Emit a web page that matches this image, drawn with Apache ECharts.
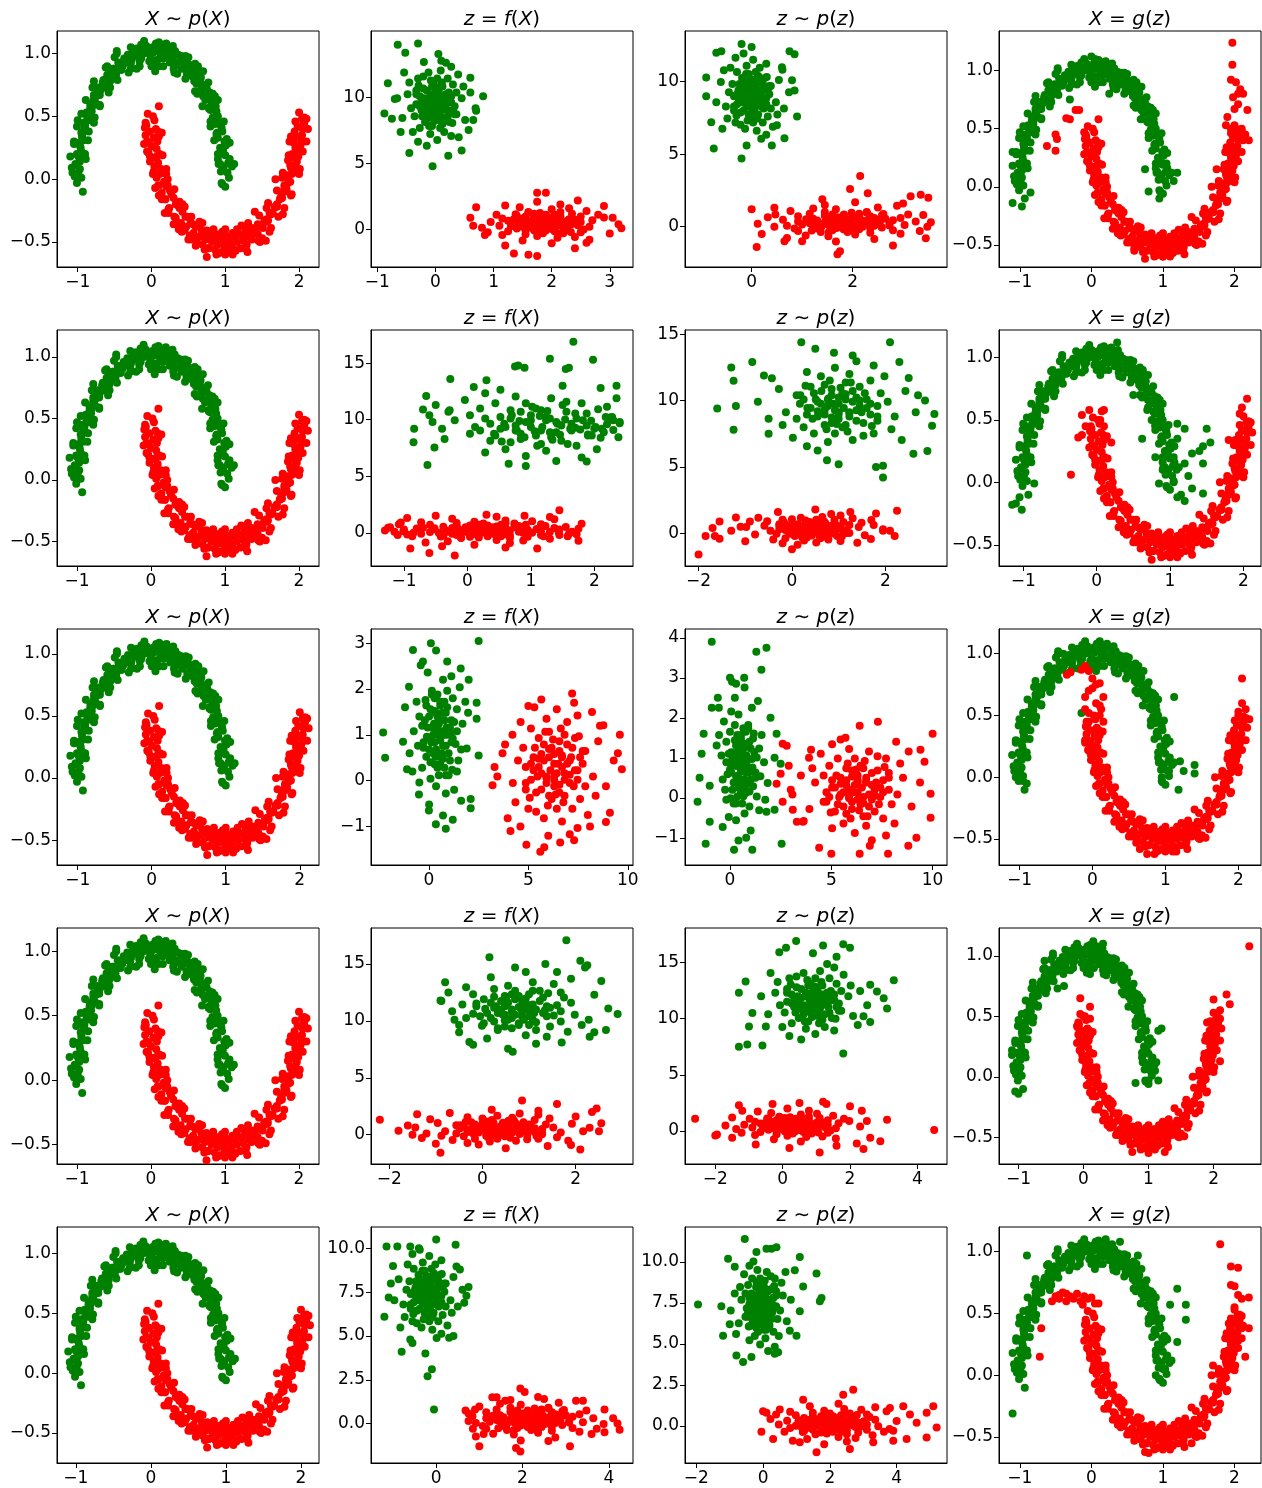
<!DOCTYPE html>
<html><head><meta charset="utf-8">
<script src="https://cdn.jsdelivr.net/npm/echarts@6/dist/echarts.min.js"></script>
<style>html,body{margin:0;padding:0;background:#fff}#c{width:1262px;height:1488px}</style>
</head><body><div id="c"></div>
<script>
// ---------- data: two moons X ~ p(X) ----------
const moonGreen=[[1.03,0.05],[0.96,-0.04],[1.05,0.01],[0.98,0.1],[0.94,0.06],[1.04,0.13],[1.0,0.19],[0.93,0.12],[1.06,0.16],[0.97,0.23],[0.92,0.2],[1.01,0.27],[0.99,0.3],[0.93,0.25],[0.9,0.33],[1.0,0.28],[0.96,0.38],[0.88,0.36],[0.94,0.43],[0.89,0.37],[0.86,0.44],[0.95,0.41],[0.9,0.5],[0.84,0.47],[0.88,0.54],[0.83,0.49],[0.8,0.55],[0.87,0.58],[0.84,0.61],[0.78,0.56],[0.77,0.64],[0.82,0.6],[0.73,0.63],[0.79,0.69],[0.75,0.72],[0.7,0.66],[0.68,0.73],[0.74,0.75],[0.66,0.78],[0.69,0.71],[0.61,0.76],[0.67,0.81],[0.63,0.84],[0.58,0.78],[0.55,0.82],[0.6,0.87],[0.52,0.86],[0.56,0.9],[0.48,0.84],[0.52,0.91],[0.44,0.9],[0.48,0.94],[0.41,0.88],[0.45,0.95],[0.37,0.93],[0.4,0.98],[0.33,0.91],[0.36,0.99],[0.29,0.96],[0.32,1.02],[0.25,0.93],[0.27,1.01],[0.2,0.98],[0.23,1.05],[0.16,0.96],[0.19,1.03],[0.12,1.0],[0.15,1.07],[0.08,0.95],[0.1,1.04],[0.03,1.01],[0.06,1.08],[-0.01,0.97],[0.02,1.05],[-0.05,1.02],[-0.03,0.94],[-0.1,1.0],[-0.07,1.06],[-0.14,0.96],[-0.12,1.03],[-0.18,1.01],[-0.16,0.94],[-0.22,0.98],[-0.2,1.04],[-0.27,0.95],[-0.24,1.01],[-0.31,0.97],[-0.28,0.92],[-0.35,0.93],[-0.32,0.99],[-0.39,0.9],[-0.37,0.96],[-0.43,0.92],[-0.41,0.87],[-0.47,0.86],[-0.45,0.93],[-0.51,0.88],[-0.48,0.83],[-0.55,0.82],[-0.52,0.88],[-0.58,0.84],[-0.56,0.78],[-0.62,0.77],[-0.6,0.83],[-0.65,0.79],[-0.63,0.73],[-0.69,0.71],[-0.66,0.77],[-0.72,0.73],[-0.7,0.67],[-0.75,0.66],[-0.72,0.71],[-0.78,0.67],[-0.76,0.61],[-0.8,0.58],[-0.78,0.64],[-0.83,0.6],[-0.81,0.54],[-0.86,0.51],[-0.83,0.57],[-0.88,0.53],[-0.85,0.47],[-0.9,0.43],[-0.87,0.49],[-0.92,0.45],[-0.89,0.39],[-0.94,0.35],[-0.91,0.41],[-0.95,0.37],[-0.92,0.31],[-0.97,0.27],[-0.94,0.33],[-0.98,0.29],[-0.95,0.22],[-1.0,0.19],[-0.96,0.25],[-1.01,0.2],[-0.97,0.14],[-1.02,0.11],[-0.98,0.17],[-1.03,0.12],[-0.99,0.05],[-1.04,0.02],[-0.97,0.08],[-1.01,-0.03],[-0.95,0.01],[1.12,0.12],[0.95,-0.03],[1.0,-0.06],[-1.1,0.18],[-0.93,-0.1],[-0.47,1.02],[0.05,0.86],[0.1,0.9],[0.6,0.8],[0.78,0.57],[0.83,0.68],[-0.7,0.58],[-0.85,0.38],[0.3,0.88],[-0.2,0.88],[-0.6,0.9],[0.5,0.97],[0.9,0.2],[0.93,0.45],[-1.05,0.3],[-0.95,0.52],[0.2,1.08],[-0.1,1.08],[0.7,0.86]];
const moonGreenSpread=[[1.09,0.1],[0.9,0.16],[1.06,0.29],[0.85,0.31],[0.98,0.46],[0.8,0.46],[0.9,0.63],[0.69,0.58],[0.77,0.77],[0.59,0.7],[0.63,0.9],[0.46,0.8],[0.46,0.98],[0.31,0.85],[0.29,1.06],[0.16,0.9],[0.1,1.09],[0.0,0.9],[-0.1,1.1],[-0.16,0.9],[-0.28,1.05],[-0.31,0.85],[-0.47,1.0],[-0.46,0.79],[-0.62,0.89],[-0.58,0.69],[-0.78,0.78],[-0.7,0.59],[-0.89,0.63],[-0.78,0.45],[-1.0,0.47],[-0.86,0.31],[-1.05,0.28],[-0.89,0.16],[-1.08,0.09],[0.91,0.12],[1.02,0.32],[0.8,0.42],[0.86,0.66],[0.62,0.68],[0.59,0.92],[0.35,0.84],[0.23,1.05],[0.04,0.92],[-0.14,1.07],[-0.28,0.88],[-0.5,0.97],[-0.56,0.73],[-0.8,0.73],[-0.77,0.49],[-1.01,0.42],[-0.9,0.2],[-1.07,0.05]];
const moonRed=[[-0.05,0.52],[0.04,0.47],[0.02,0.5],[-0.07,0.43],[0.06,0.4],[-0.02,0.38],[-0.08,0.35],[0.03,0.33],[0.08,0.3],[-0.03,0.29],[0.0,0.26],[-0.06,0.3],[0.07,0.24],[-0.04,0.21],[0.02,0.17],[0.11,0.2],[-0.02,0.14],[0.09,0.13],[0.04,0.1],[0.13,0.08],[0.03,0.06],[0.11,0.04],[0.16,0.05],[0.07,0.01],[0.09,-0.05],[0.17,-0.02],[0.1,-0.05],[0.2,-0.06],[0.14,-0.11],[0.22,-0.05],[0.19,-0.16],[0.25,-0.09],[0.18,-0.16],[0.27,-0.12],[0.23,-0.24],[0.3,-0.15],[0.24,-0.23],[0.33,-0.2],[0.31,-0.3],[0.36,-0.21],[0.33,-0.31],[0.38,-0.23],[0.37,-0.36],[0.42,-0.26],[0.4,-0.35],[0.46,-0.3],[0.45,-0.41],[0.49,-0.3],[0.47,-0.38],[0.53,-0.35],[0.52,-0.45],[0.56,-0.36],[0.57,-0.43],[0.6,-0.38],[0.61,-0.48],[0.64,-0.37],[0.65,-0.46],[0.68,-0.41],[0.69,-0.52],[0.72,-0.43],[0.73,-0.48],[0.75,-0.41],[0.77,-0.55],[0.8,-0.45],[0.82,-0.5],[0.84,-0.43],[0.86,-0.56],[0.88,-0.47],[0.9,-0.52],[0.92,-0.44],[0.95,-0.58],[0.97,-0.49],[0.99,-0.53],[1.01,-0.45],[1.03,-0.57],[1.05,-0.48],[1.08,-0.52],[1.1,-0.43],[1.12,-0.56],[1.14,-0.47],[1.16,-0.5],[1.18,-0.44],[1.21,-0.55],[1.23,-0.45],[1.25,-0.49],[1.27,-0.41],[1.29,-0.52],[1.31,-0.43],[1.33,-0.46],[1.36,-0.39],[1.36,-0.48],[1.4,-0.4],[1.41,-0.43],[1.44,-0.36],[1.44,-0.44],[1.48,-0.37],[1.48,-0.38],[1.53,-0.33],[1.51,-0.39],[1.56,-0.32],[1.56,-0.34],[1.6,-0.27],[1.58,-0.33],[1.64,-0.27],[1.62,-0.28],[1.67,-0.22],[1.64,-0.27],[1.7,-0.22],[1.69,-0.22],[1.74,-0.16],[1.7,-0.2],[1.77,-0.15],[1.75,-0.15],[1.8,-0.1],[1.76,-0.13],[1.83,-0.08],[1.8,-0.08],[1.85,-0.03],[1.8,-0.05],[1.88,-0.02],[1.85,0.01],[1.9,0.04],[1.85,0.03],[1.93,0.06],[1.89,0.09],[1.95,0.11],[1.88,0.11],[1.97,0.14],[1.92,0.17],[1.99,0.18],[1.91,0.2],[2.0,0.23],[1.95,0.25],[2.02,0.27],[1.93,0.29],[2.03,0.31],[1.97,0.34],[2.04,0.35],[1.94,0.38],[2.05,0.4],[1.98,0.42],[2.06,0.44],[1.95,0.46],[2.04,0.48],[2.0,0.53],[2.07,0.49],[0.05,-0.07],[0.18,-0.27],[1.4,-0.26],[1.55,-0.49],[0.75,-0.62],[1.0,-0.6],[1.68,0.0],[1.85,0.15],[2.1,0.48],[0.1,0.58],[-0.1,0.28],[0.14,0.37],[0.22,0.0],[0.45,-0.22],[0.6,-0.53],[0.88,-0.6],[1.22,-0.37],[1.3,-0.58],[1.45,-0.49],[1.6,-0.42],[1.72,-0.3],[1.9,-0.12],[1.98,0.05],[2.1,0.3],[2.12,0.4],[1.87,0.3],[0.3,-0.36],[0.5,-0.48],[0.07,0.18],[-0.08,0.45]];
const moonRedSpread=[[-0.09,0.41],[0.1,0.34],[-0.06,0.22],[0.15,0.19],[0.02,0.04],[0.2,0.04],[0.1,-0.13],[0.31,-0.08],[0.23,-0.27],[0.42,-0.2],[0.37,-0.4],[0.54,-0.3],[0.54,-0.48],[0.69,-0.35],[0.72,-0.56],[0.84,-0.4],[0.91,-0.59],[1.0,-0.4],[1.1,-0.6],[1.16,-0.4],[1.28,-0.55],[1.31,-0.35],[1.47,-0.5],[1.46,-0.29],[1.62,-0.39],[1.58,-0.19],[1.78,-0.28],[1.7,-0.09],[1.89,-0.13],[1.78,0.05],[2.0,0.04],[1.86,0.19],[2.05,0.22],[1.89,0.34],[2.08,0.41],[0.09,0.38],[-0.02,0.18],[0.2,0.08],[0.14,-0.16],[0.38,-0.18],[0.41,-0.42],[0.65,-0.34],[0.77,-0.55],[0.96,-0.42],[1.14,-0.57],[1.28,-0.38],[1.5,-0.47],[1.56,-0.23],[1.8,-0.23],[1.77,0.01],[2.01,0.08],[1.9,0.3],[2.07,0.45]];

// ---------- data: z = f(X) (column 2), rows 1..5 ----------
const fxGreen1=[[0.03,9.8],[-0.09,10.25],[0.18,9.2],[-0.15,8.9],[0.06,8.3],[0.27,10.1],[-0.24,9.65],[0,9.35],[0.12,10.85],[-0.06,7.85],[0.36,8.75],[-0.33,10.55],[0.21,11.45],[-0.18,8.15],[0.09,9.5],[-0.03,11.0],[0.45,9.95],[-0.42,9.2],[0.15,7.4],[-0.12,11.9],[0.3,11.0],[-0.27,7.7],[0.24,8.15],[-0.3,11.45],[0,10.4],[0.06,8.75],[-0.15,9.8],[0.18,10.25],[-0.06,9.05],[0.33,9.35],[-0.36,8.6],[0.09,12.05],[-0.21,10.7],[0.51,8.3],[-0.48,10.25],[0.03,6.8],[0.6,10.4],[-0.57,8.45],[0.27,7.1],[-0.09,7.25],[0.39,11.75],[-0.45,11.15],[0.12,10.1],[-0.12,8.45],[0.24,9.65],[-0.27,10.1],[0.03,11.45],[-0.03,8.6],[0.69,9.2],[-0.66,9.95],[0.18,12.65],[-0.15,6.35],[0.48,10.85],[-0.39,7.4],[0.57,7.55],[-0.54,11.9],[0.15,9.35],[-0.18,9.5],[0,9.95],[0.09,9.05],[-0.09,9.95],[0.21,8.6],[-0.24,9.05],[0.06,10.7],[0.3,9.05],[-0.06,10.85],[0.12,8.0],[-0.33,9.5],[0.36,10.4],[-0.21,11.6],[0.27,12.35],[-0.3,6.65],[-0.65,14.0],[-0.3,14.1],[-0.52,13.4],[0.05,13.3],[-0.88,8.8],[-0.82,11.1],[0.82,10.1],[-0.05,4.8],[0.22,5.6],[0.45,6.0],[-0.45,5.8],[-0.7,9.9],[0.7,9.0],[-0.6,7.4],[0.6,11.5],[0.1,12.8],[-0.2,12.7],[0.4,7.0],[-0.75,8.4],[0.65,8.3],[0.05,9.35],[-0.05,9.65],[0.12,9.8],[-0.12,9.2],[0.06,10.33],[-0.06,8.68],[0.2,9.05],[-0.2,9.95],[0.02,10.78],[-0.02,8.23],[0.27,9.65],[-0.27,9.35],[0.15,8.45],[-0.15,10.55],[0.23,10.4],[-0.23,8.6],[0.09,8.98],[-0.09,10.03],[0.33,8.75],[-0.33,10.25],[0.11,11.15],[-0.11,7.85],[0.18,9.88],[-0.18,9.13],[0,10.1],[0,8.9],[0.29,8.08],[-0.29,10.93],[0.08,7.7],[-0.08,11.3]];
const fxRed1=[[1.95,0.57],[2.1,0.29],[1.75,0.92],[1.65,0.15],[1.45,0.64],[2.05,1.13],[1.9,-0.06],[1.8,0.5],[2.3,0.78],[1.3,0.36],[1.6,1.34],[2.2,-0.27],[2.5,0.99],[1.4,0.08],[1.85,0.71],[2.35,0.43],[2.0,1.55],[1.75,-0.48],[1.15,0.85],[2.65,0.22],[2.35,1.2],[1.25,-0.13],[1.4,1.06],[2.5,-0.2],[2.15,0.5],[1.6,0.64],[1.95,0.15],[2.1,0.92],[1.7,0.36],[1.8,1.27],[1.55,-0.34],[2.7,0.71],[2.25,0.01],[1.45,1.69],[2.1,-0.62],[0.95,0.57],[2.15,1.9],[1.5,-0.83],[1.05,1.13],[1.1,0.29],[2.6,1.41],[2.4,-0.55],[2.05,0.78],[1.5,0.22],[1.9,1.06],[2.05,-0.13],[2.5,0.57],[1.55,0.43],[1.75,2.11],[2.0,-1.04],[2.9,0.92],[0.8,0.15],[2.3,1.62],[1.15,-0.41],[1.2,1.83],[2.65,-0.76],[1.8,0.85],[1.85,0.08],[2.0,0.5],[1.7,0.71],[2.0,0.29],[1.55,0.99],[1.7,-0.06],[2.25,0.64],[1.7,1.2],[2.3,0.36],[1.35,0.78],[1.85,-0.27],[2.15,1.34],[2.55,0.01],[2.8,1.13],[0.9,-0.2],[1.35,-1.8],[1.6,-1.9],[1.75,-2.0],[2.4,-1.4],[0.6,0.9],[0.65,0.3],[3.2,0.1],[3.15,0.4],[3.0,-0.3],[0.7,1.7],[1.9,2.8],[1.75,2.8],[2.6,-1.0],[2.9,1.8],[0.85,-0.4],[1.2,-1.2],[3.05,0.9],[2.45,2.2],[1.8,0.61],[1.9,0.4],[1.95,0.78],[1.75,0.22],[2.13,0.64],[1.58,0.36],[1.7,0.96],[2.0,0.05],[2.28,0.54],[1.43,0.47],[1.9,1.13],[1.8,-0.13],[1.5,0.85],[2.2,0.15],[2.15,1.03],[1.55,-0.03],[1.68,0.71],[2.03,0.29],[1.6,1.27],[2.1,-0.27],[2.4,0.75],[1.3,0.26],[1.98,0.92],[1.73,0.08],[2.05,0.5],[1.65,0.5],[1.38,1.17],[2.33,-0.17],[1.25,0.68],[2.45,0.33]];
const fxGreen2=[[0.92,9.8],[1.24,10.25],[0.52,9.2],[1.4,8.9],[0.84,8.3],[0.28,10.1],[1.64,9.65],[1.0,9.35],[0.68,10.85],[1.16,7.85],[0.04,8.75],[1.88,10.55],[0.44,11.45],[1.48,8.15],[0.76,9.5],[1.08,11.0],[-0.2,9.95],[2.12,9.2],[0.6,7.4],[1.32,11.9],[0.2,11.0],[1.72,7.7],[0.36,8.15],[1.8,11.45],[1.0,10.4],[0.84,8.75],[1.4,9.8],[0.52,10.25],[1.16,9.05],[0.12,9.35],[1.96,8.6],[0.76,12.05],[1.56,10.7],[-0.36,8.3],[2.28,10.25],[0.92,6.8],[-0.6,10.4],[2.38,8.45],[0.28,7.1],[1.24,7.25],[-0.04,11.75],[2.2,11.15],[0.68,10.1],[1.32,8.45],[0.36,9.65],[1.72,10.1],[0.92,11.45],[1.08,8.6],[-0.84,9.2],[2.3,9.95],[0.52,12.65],[1.4,6.35],[-0.28,10.85],[2.04,7.4],[-0.52,7.55],[2.35,11.9],[0.6,9.35],[1.48,9.5],[1.0,9.95],[0.76,9.05],[1.24,9.95],[0.44,8.6],[1.64,9.05],[0.84,10.7],[0.2,9.05],[1.16,10.85],[0.68,8.0],[1.88,9.5],[0.04,10.4],[1.56,11.6],[0.28,12.35],[1.8,6.65],[2.0,9.2],[2.2,9.6],[1.9,8.7],[2.3,9.1],[2.1,8.4],[1.7,9.3],[2.25,10.2],[2.4,9.7],[1.95,9.9],[2.15,8.9],[-0.7,10.9],[-0.65,12.1],[-0.5,11.3],[-0.3,10.7],[-0.4,9.2],[-0.55,9.8],[1.67,16.9],[1.98,15.3],[1.3,15.4],[0.9,14.6],[0.75,14.7],[0.8,14.8],[1.55,14.5],[1.6,14.6],[2.35,13.0],[-0.27,13.6],[-0.63,6.0],[0.92,5.9],[0.65,6.1],[1.88,6.3],[-0.85,8.0],[2.4,9.8],[0.3,13.5],[1.5,13.0],[0.1,12.9],[2.1,12.8],[1.18,9.35],[1.42,9.65],[0.98,9.8],[1.62,9.2],[1.14,10.33],[1.46,8.68],[0.78,9.05],[1.82,9.95],[1.26,10.78],[1.34,8.23],[0.58,9.65],[2.02,9.35],[0.9,8.45],[1.7,10.55],[0.7,10.4],[1.9,8.6],[1.06,8.98],[1.54,10.03],[0.42,8.75],[2.18,10.25],[1.02,11.15],[1.58,7.85],[0.82,9.88],[1.78,9.13],[1.3,10.1],[1.3,8.9],[0.54,8.08],[2.06,10.93],[1.1,7.7],[1.5,11.3]];
const fxRed2=[[0.39,0.14],[0.6,0.37],[0.11,-0.13],[-0.03,0.48],[-0.31,0.09],[0.53,-0.3],[0.32,0.64],[0.18,0.2],[0.88,-0.02],[-0.52,0.31],[-0.1,-0.46],[0.74,0.81],[1.16,-0.19],[-0.38,0.53],[0.25,0.03],[0.95,0.26],[0.46,-0.63],[0.11,0.97],[-0.73,-0.08],[1.37,0.42],[0.95,-0.35],[-0.59,0.7],[-0.38,-0.24],[1.16,0.75],[0.67,0.2],[-0.1,0.09],[0.39,0.48],[0.6,-0.13],[0.04,0.31],[0.18,-0.41],[-0.17,0.86],[1.44,0.03],[0.81,0.59],[-0.31,-0.74],[0.6,1.08],[-1.01,0.14],[0.67,-0.9],[-0.24,1.25],[-0.87,-0.3],[-0.8,0.37],[1.3,-0.52],[1.02,1.03],[0.53,-0.02],[-0.24,0.42],[0.32,-0.24],[0.53,0.7],[1.16,0.14],[-0.17,0.26],[0.11,-1.07],[0.46,1.41],[1.72,-0.13],[-1.22,0.48],[0.88,-0.68],[-0.73,0.92],[-0.66,-0.85],[1.37,1.19],[0.18,-0.08],[0.25,0.53],[0.46,0.2],[0.04,0.03],[0.46,0.37],[-0.17,-0.19],[0.04,0.64],[0.81,0.09],[0.04,-0.35],[0.88,0.31],[-0.45,-0.02],[0.25,0.81],[0.67,-0.46],[1.23,0.59],[1.58,-0.3],[-1.08,0.75],[-1.15,0.1],[-1.25,0.45],[-0.95,-0.15],[1.55,0.5],[1.65,0.1],[1.45,-0.2],[-1.05,0.9],[1.75,0.35],[-0.9,-1.4],[-0.6,-1.8],[-0.2,-2.0],[1.1,-1.4],[1.45,2.0],[1.8,0.8],[1.75,-0.7],[-1.3,0.2],[-0.95,1.3],[0.3,1.6],[0.9,1.5],[-0.4,-1.2],[0.6,-1.3],[1.3,1.4],[-0.5,1.5],[0.18,0.12],[0.32,0.28],[0.39,-0.02],[0.11,0.42],[0.64,0.09],[-0.14,0.31],[0.04,-0.16],[0.46,0.56],[0.85,0.17],[-0.35,0.23],[0.32,-0.3],[0.18,0.7],[-0.24,-0.08],[0.74,0.48],[0.67,-0.21],[-0.17,0.61],[0.0,0.04],[0.5,0.37],[-0.1,-0.41],[0.6,0.81],[1.02,0.01],[-0.52,0.39],[0.43,-0.13],[0.08,0.53],[0.53,0.2],[-0.03,0.2],[-0.42,-0.32],[0.92,0.72],[-0.59,0.06],[1.09,0.34],[-1.0,0.3],[-0.85,0.0],[-0.7,0.45],[1.3,0.1],[1.45,0.3],[1.2,-0.3],[-1.1,-0.2],[1.6,-0.1]];
const fxGreen3=[[0.64,1.08],[0.85,0.76],[0.36,1.48],[0.22,0.6],[-0.06,1.16],[0.78,1.72],[0.57,0.36],[0.43,1.0],[1.13,1.32],[-0.27,0.84],[0.15,1.96],[0.99,0.12],[1.41,1.56],[-0.13,0.52],[0.5,1.24],[1.2,0.92],[0.71,2.2],[0.36,-0.12],[-0.48,1.4],[1.62,0.68],[1.2,1.8],[-0.34,0.28],[-0.13,1.64],[1.41,0.2],[0.92,1.0],[0.15,1.16],[0.64,0.6],[0.85,1.48],[0.29,0.84],[0.43,1.88],[0.08,0.04],[1.69,1.24],[1.06,0.44],[-0.06,2.36],[0.85,-0.28],[-0.76,1.08],[0.92,2.6],[0.01,-0.52],[-0.62,1.72],[-0.55,0.76],[1.55,2.04],[1.27,-0.2],[0.78,1.32],[0.01,0.68],[0.57,1.64],[0.78,0.28],[1.41,1.08],[0.08,0.92],[0.36,2.84],[0.71,-0.76],[1.97,1.48],[-0.97,0.6],[1.13,2.28],[-0.48,-0.04],[-0.41,2.52],[1.62,-0.44],[0.43,1.4],[0.5,0.52],[0.71,1.0],[0.29,1.24],[0.71,0.76],[0.08,1.56],[0.29,0.36],[1.06,1.16],[0.29,1.8],[1.13,0.84],[-0.2,1.32],[0.5,0.12],[0.92,1.96],[1.48,0.44],[1.83,1.72],[-0.83,0.2],[-2.3,1.05],[-2.2,0.5],[2.5,3.05],[0.1,3.0],[-0.8,2.85],[2.1,-0.6],[2.1,-0.4],[0.85,-1.05],[0.35,-0.95],[2.5,0.55],[2.4,1.35],[2.4,1.7],[-1.2,1.6],[-1.1,0.25],[-1.3,0.85],[1.6,2.45],[-0.3,2.6],[0.0,-0.65],[1.9,0.7],[2.0,2.2],[-1.0,2.05],[1.2,-0.85],[-0.5,-0.3],[0.43,1.12],[0.57,0.88],[0.64,1.32],[0.36,0.68],[0.89,1.16],[0.12,0.84],[0.29,1.52],[0.71,0.48],[1.1,1.04],[-0.1,0.96],[0.57,1.72],[0.43,0.28],[0.01,1.4],[0.99,0.6],[0.92,1.6],[0.08,0.4],[0.26,1.24],[0.75,0.76],[0.15,1.88],[0.85,0.12],[1.27,1.28],[-0.27,0.72],[0.68,1.48],[0.33,0.52],[0.78,1.0],[0.22,1.0],[-0.17,1.76],[1.17,0.24],[-0.34,1.2],[1.34,0.8]];
const fxRed3=[[6.43,0.16],[5.91,-0.05],[7.08,0.44],[5.65,0.58],[6.56,0.86],[7.47,0.02],[5.26,0.23],[6.3,0.37],[6.82,-0.33],[6.04,1.07],[7.86,0.65],[4.87,-0.19],[7.21,-0.61],[5.52,0.93],[6.69,0.3],[6.17,-0.4],[8.25,0.09],[4.48,0.44],[6.95,1.28],[5.78,-0.82],[7.6,-0.4],[5.13,1.14],[7.34,0.93],[5.0,-0.61],[6.3,-0.12],[6.56,0.65],[5.65,0.16],[7.08,-0.05],[6.04,0.51],[7.73,0.37],[4.74,0.72],[6.69,-0.89],[5.39,-0.26],[8.51,0.86],[4.22,-0.05],[6.43,1.56],[8.9,-0.12],[3.83,0.79],[7.47,1.42],[5.91,1.35],[7.99,-0.75],[4.35,-0.47],[6.82,0.02],[5.78,0.79],[7.34,0.23],[5.13,0.02],[6.43,-0.61],[6.17,0.72],[9.29,0.44],[3.44,0.09],[7.08,-1.17],[5.65,1.77],[8.38,-0.33],[4.61,1.28],[8.77,1.21],[3.96,-0.82],[6.95,0.37],[5.52,0.3],[6.3,0.09],[6.69,0.51],[5.91,0.09],[7.21,0.72],[5.26,0.51],[6.56,-0.26],[7.6,0.51],[6.04,-0.33],[6.82,1.0],[4.87,0.3],[7.86,-0.12],[5.39,-0.68],[7.47,-1.03],[5.0,1.63],[7.2,1.9],[7.3,1.7],[4.1,-1.1],[4.9,-1.4],[5.6,-1.55],[5.8,-1.45],[6.6,-1.35],[7.3,-1.3],[9.7,0.25],[9.6,1.0],[3.2,-0.1],[8.1,-1.0],[3.3,0.3],[4.2,1.0],[5.3,1.6],[8.6,1.2],[9.1,-0.7],[8.9,-0.9],[6.0,-1.2],[9.5,0.6],[3.7,0.6],[4.6,-1.0],[8.2,1.5],[6.5,0.37],[6.11,0.23],[6.82,0.16],[5.78,0.44],[6.56,-0.09],[6.04,0.69],[7.15,0.51],[5.46,0.09],[6.37,-0.3],[6.24,0.9],[7.47,0.23],[5.13,0.37],[6.95,0.79],[5.65,-0.19],[7.28,-0.12],[5.33,0.72],[6.69,0.55],[5.91,0.06],[7.73,0.65],[4.87,-0.05],[6.76,-0.47],[5.85,1.07],[7.08,0.13],[5.52,0.48],[6.3,0.02],[6.3,0.58],[7.54,0.97],[5.07,-0.37],[6.63,1.14],[5.98,-0.54]];
const fxGreen4=[[0.85,10.85],[1.08,11.45],[0.55,10.1],[0.4,11.75],[0.1,10.7],[1.0,9.65],[0.78,12.2],[0.63,11.0],[1.38,10.4],[-0.13,11.3],[0.33,9.2],[1.23,12.65],[1.68,9.95],[0.03,11.9],[0.7,10.55],[1.45,11.15],[0.93,8.75],[0.55,13.1],[-0.35,10.25],[1.9,11.6],[1.45,9.5],[-0.2,12.35],[0.03,9.8],[1.68,12.5],[1.15,11.0],[0.33,10.7],[0.85,11.75],[1.08,10.1],[0.48,11.3],[0.63,9.35],[0.25,12.8],[1.98,10.55],[1.3,12.05],[0.1,8.45],[1.08,13.4],[-0.65,10.85],[1.15,8.0],[0.18,13.85],[-0.5,9.65],[-0.43,11.45],[1.83,9.05],[1.53,13.25],[1.0,10.4],[0.18,11.6],[0.78,9.8],[1.0,12.35],[1.68,10.85],[0.25,11.15],[0.55,7.55],[0.93,14.3],[2.28,10.1],[-0.88,11.75],[1.38,8.6],[-0.35,12.95],[-0.28,8.15],[1.9,13.7],[0.63,10.25],[0.7,11.9],[0.93,11.0],[0.48,10.55],[0.93,11.45],[0.25,9.95],[0.48,12.2],[1.3,10.7],[0.48,9.5],[1.38,11.3],[-0.05,10.4],[0.7,12.65],[1.15,9.2],[1.75,12.05],[2.13,9.65],[-0.73,12.5],[1.8,17.1],[0.15,15.6],[-0.8,13.4],[-0.9,11.8],[2.9,10.6],[2.65,9.2],[2.4,9.0],[-0.2,7.9],[0.65,7.3],[2.1,15.3],[2.2,14.7],[1.35,15.0],[0.7,14.7],[2.55,13.5],[2.25,14.9],[1.6,14.3],[2.7,11.1],[2.4,12.3],[-0.6,10.1],[2.3,8.6],[1.7,8.1],[-0.5,9.0],[0.63,10.78],[0.78,11.23],[0.85,10.4],[0.55,11.6],[1.11,10.7],[0.29,11.3],[0.48,10.03],[0.93,11.98],[1.34,10.93],[0.06,11.08],[0.78,9.65],[0.63,12.35],[0.18,10.25],[1.23,11.75],[1.15,9.88],[0.25,12.13],[0.44,10.55],[0.96,11.45],[0.33,9.35],[1.08,12.65],[1.53,10.48],[-0.13,11.53],[0.89,10.1],[0.51,11.9],[1.0,11.0],[0.4,11.0],[-0.01,9.58],[1.41,12.43],[-0.2,10.63],[1.6,11.38]];
const fxRed4=[[0.32,0.37],[0.64,0.18],[-0.08,0.63],[0.8,0.76],[0.24,1.02],[-0.32,0.24],[1.04,0.43],[0.4,0.57],[0.08,-0.09],[0.56,1.22],[-0.56,0.83],[1.28,0.04],[-0.16,-0.35],[0.88,1.09],[0.16,0.5],[0.48,-0.15],[-0.8,0.3],[1.52,0.63],[0.0,1.41],[0.72,-0.54],[-0.4,-0.15],[1.12,1.28],[-0.24,1.09],[1.2,-0.35],[0.4,0.11],[0.24,0.83],[0.8,0.37],[-0.08,0.18],[0.56,0.7],[-0.48,0.57],[1.36,0.89],[0.16,-0.61],[0.96,-0.02],[-0.96,1.02],[1.68,0.18],[0.32,1.67],[-1.2,0.11],[1.92,0.96],[-0.32,1.54],[0.64,1.48],[-0.64,-0.48],[1.6,-0.22],[0.08,0.24],[0.72,0.96],[-0.24,0.43],[1.12,0.24],[0.32,-0.35],[0.48,0.89],[-1.44,0.63],[2.16,0.3],[-0.08,-0.87],[0.8,1.87],[-0.88,-0.09],[1.44,1.41],[-1.12,1.35],[1.84,-0.54],[0.0,0.57],[0.88,0.5],[0.4,0.3],[0.16,0.7],[0.64,0.3],[-0.16,0.89],[1.04,0.7],[0.24,-0.02],[-0.4,0.7],[0.56,-0.09],[0.08,1.15],[1.28,0.5],[-0.56,0.11],[0.96,-0.41],[-0.32,-0.74],[1.2,1.74],[-2.2,1.3],[-1.8,0.35],[-1.6,0.8],[-0.9,-1.6],[0.85,3.0],[1.6,2.7],[2.1,-1.3],[2.45,2.3],[2.35,2.0],[2.55,1.0],[-1.4,1.8],[-1.3,-0.3],[-1.5,0.0],[2.3,0.6],[2.5,0.3],[1.9,-0.9],[-0.7,1.9],[0.2,2.2],[1.2,2.1],[-1.0,-0.8],[0.5,-1.2],[1.4,-1.0],[2.0,1.6],[0.28,0.57],[0.52,0.44],[0.08,0.37],[0.72,0.63],[0.24,0.14],[0.56,0.86],[-0.12,0.7],[0.92,0.31],[0.36,-0.05],[0.44,1.05],[-0.32,0.44],[1.12,0.57],[0.0,0.96],[0.8,0.05],[-0.2,0.11],[1.0,0.89],[0.16,0.73],[0.64,0.27],[-0.48,0.83],[1.28,0.18],[0.12,-0.22],[0.68,1.22],[-0.08,0.34],[0.88,0.66],[0.4,0.24],[0.4,0.76],[-0.36,1.12],[1.16,-0.12],[0.2,1.28],[0.6,-0.28]];
const fxGreen5=[[-0.16,7.16],[-0.31,6.8],[0.01,7.64],[-0.38,7.88],[-0.13,8.36],[0.12,6.92],[-0.48,7.28],[-0.2,7.52],[-0.06,6.32],[-0.27,8.72],[0.22,8.0],[-0.59,6.56],[0.05,5.84],[-0.41,8.48],[-0.09,7.4],[-0.24,6.2],[0.33,7.04],[-0.69,7.64],[-0.02,9.08],[-0.34,5.48],[0.15,6.2],[-0.52,8.84],[0.08,8.48],[-0.55,5.84],[-0.2,6.68],[-0.13,8.0],[-0.38,7.16],[0.01,6.8],[-0.27,7.76],[0.19,7.52],[-0.62,8.12],[-0.09,5.36],[-0.45,6.44],[0.4,8.36],[-0.76,6.8],[-0.16,9.56],[0.5,6.68],[-0.87,8.24],[0.12,9.32],[-0.31,9.2],[0.26,5.6],[-0.73,6.08],[-0.06,6.92],[-0.34,8.24],[0.08,7.28],[-0.52,6.92],[-0.16,5.84],[-0.24,8.12],[0.61,7.64],[-0.97,7.04],[0.01,4.88],[-0.38,9.92],[0.36,6.32],[-0.66,9.08],[0.47,8.96],[-0.83,5.48],[-0.02,7.52],[-0.41,7.4],[-0.2,7.04],[-0.09,7.76],[-0.31,7.04],[0.05,8.12],[-0.48,7.76],[-0.13,6.44],[0.15,7.76],[-0.27,6.32],[-0.06,8.6],[-0.59,7.4],[0.22,6.68],[-0.45,5.72],[0.12,5.12],[-0.55,9.68],[-0.05,0.8],[-0.2,2.7],[-0.1,3.1],[-0.8,4.1],[-0.25,4.0],[-1.2,6.1],[-1.15,10.1],[0.45,10.2],[0.0,10.5],[0.75,7.8],[0.7,7.3],[0.65,6.9],[-1.05,8.0],[-1.0,9.0],[-0.9,10.1],[-0.6,10.1],[0.4,5.0],[0.3,4.9],[-0.55,4.6],[-1.1,7.2],[-0.4,10.0],[0.55,8.8],[-0.6,4.8],[-0.15,7.52],[-0.25,7.28],[-0.06,7.16],[-0.34,7.64],[-0.13,6.74],[-0.27,8.06],[0.03,7.76],[-0.43,7.04],[-0.18,6.38],[-0.22,8.42],[0.12,7.28],[-0.52,7.52],[-0.03,8.24],[-0.38,6.56],[0.06,6.68],[-0.46,8.12],[-0.1,7.82],[-0.31,6.98],[0.19,8.0],[-0.59,6.8],[-0.08,6.08],[-0.32,8.72],[0.01,7.1],[-0.41,7.7],[-0.2,6.92],[-0.2,7.88],[0.13,8.54],[-0.53,6.26],[-0.11,8.84],[-0.29,5.96]];
const fxRed5=[[2.04,0.31],[1.8,0.08],[2.36,0.58],[2.52,-0.03],[2.84,0.36],[1.88,0.75],[2.12,-0.19],[2.28,0.25],[1.48,0.47],[3.08,0.14],[2.6,0.91],[1.64,-0.36],[1.16,0.64],[2.92,-0.08],[2.2,0.42],[1.4,0.2],[1.96,1.08],[2.36,-0.52],[3.32,0.53],[0.92,0.03],[1.4,0.8],[3.16,-0.25],[2.92,0.69],[1.16,-0.3],[1.72,0.25],[2.6,0.36],[2.04,-0.03],[1.8,0.58],[2.44,0.14],[2.28,0.86],[2.68,-0.41],[0.84,0.42],[1.56,-0.14],[2.84,1.19],[1.8,-0.63],[3.64,0.31],[1.72,1.35],[2.76,-0.8],[3.48,0.75],[3.4,0.08],[1.0,0.97],[1.32,-0.58],[1.88,0.47],[2.76,0.03],[2.12,0.69],[1.88,-0.25],[1.16,0.31],[2.68,0.2],[2.36,1.52],[1.96,-0.96],[0.75,0.58],[3.88,-0.03],[1.48,1.13],[3.32,-0.47],[3.24,1.3],[0.92,-0.74],[2.28,0.53],[2.2,-0.08],[1.96,0.25],[2.44,0.42],[1.96,0.08],[2.68,0.64],[2.44,-0.19],[1.56,0.36],[2.44,0.8],[1.48,0.14],[3.0,0.47],[2.2,-0.36],[1.72,0.91],[1.08,-0.14],[0.68,0.75],[3.72,-0.3],[0.75,0.15],[1.0,-1.3],[1.85,-1.4],[1.95,-1.6],[3.1,-1.3],[1.95,2.0],[2.05,1.8],[4.25,-0.35],[3.9,0.8],[4.1,0.3],[4.2,0.0],[3.9,-0.5],[1.3,1.5],[1.4,1.5],[2.5,1.4],[3.4,1.3],[0.9,0.8],[1.1,-0.6],[2.6,-1.0],[3.6,-0.6],[0.85,-0.3],[1.6,1.3],[2.28,0.33],[2.12,0.17],[2.04,0.47],[2.36,0.03],[1.76,0.36],[2.64,0.14],[2.44,0.61],[1.96,-0.11],[1.52,0.28],[2.88,0.22],[2.12,0.75],[2.28,-0.25],[2.76,0.53],[1.64,-0.03],[1.72,0.66],[2.68,-0.16],[2.48,0.42],[1.92,0.09],[2.6,0.86],[1.8,-0.36],[1.32,0.44],[3.08,0.06],[2.0,0.58],[2.4,-0.08],[1.88,0.25],[2.52,0.25],[2.96,0.77],[1.44,-0.27],[3.16,0.39],[1.24,0.11]];

// ---------- data: z ~ p(z) (column 3), rows 1..5 ----------
const pzGreen1=[[0.03,8.72],[-0.1,8.3],[0.19,9.28],[-0.16,9.56],[0.06,10.12],[0.29,8.44],[-0.26,8.86],[0,9.14],[0.13,7.74],[-0.06,10.54],[0.38,9.7],[-0.35,8.02],[0.22,7.18],[-0.19,10.26],[0.1,9.0],[-0.03,7.6],[0.48,8.58],[-0.45,9.28],[0.16,10.96],[-0.13,6.76],[0.32,7.6],[-0.29,10.68],[0.26,10.26],[-0.32,7.18],[0,8.16],[0.06,9.7],[-0.16,8.72],[0.19,8.3],[-0.06,9.42],[0.35,9.14],[-0.38,9.84],[0.1,6.62],[-0.22,7.88],[0.54,10.12],[-0.51,8.3],[0.03,11.52],[0.64,8.16],[-0.61,9.98],[0.29,11.24],[-0.1,11.1],[0.42,6.9],[-0.48,7.46],[0.13,8.44],[-0.13,9.98],[0.26,8.86],[-0.29,8.44],[0.03,7.18],[-0.03,9.84],[0.74,9.28],[-0.7,8.58],[0.19,6.06],[-0.16,11.94],[0.51,7.74],[-0.42,10.96],[0.61,10.82],[-0.58,6.76],[0.16,9.14],[-0.19,9.0],[0,8.58],[0.1,9.42],[-0.1,8.58],[0.22,9.84],[-0.26,9.42],[0.06,7.88],[0.32,9.42],[-0.06,7.74],[0.13,10.4],[-0.35,9.0],[0.38,8.16],[-0.22,7.04],[0.29,6.34],[-0.32,11.66],[-0.2,12.6],[0.0,12.4],[-0.6,12.1],[-0.7,12.0],[0.75,12.1],[0.85,11.9],[-0.9,10.3],[-0.9,9.0],[0.9,7.6],[-0.2,4.7],[-0.75,5.4],[-0.1,5.6],[0.4,5.6],[0.65,6.1],[0.85,9.4],[0.8,10.1],[-0.8,7.2],[0.6,11.0],[-0.55,10.8],[0.5,7.0],[0.05,9.14],[-0.05,8.86],[0.13,8.72],[-0.13,9.28],[0.06,8.23],[-0.06,9.77],[0.21,9.42],[-0.21,8.58],[0.02,7.81],[-0.02,10.19],[0.29,8.86],[-0.29,9.14],[0.16,9.98],[-0.16,8.02],[0.24,8.16],[-0.24,9.84],[0.1,9.49],[-0.1,8.51],[0.35,9.7],[-0.35,8.3],[0.11,7.46],[-0.11,10.54],[0.19,8.65],[-0.19,9.35],[0,8.44],[0,9.56],[0.3,10.33],[-0.3,7.67],[0.08,10.68],[-0.08,7.32]];
const pzRed1=[[1.75,0.36],[1.52,0.12],[2.05,0.66],[2.2,0.0],[2.5,0.42],[1.6,0.84],[1.82,-0.18],[1.98,0.3],[1.22,0.54],[2.73,0.18],[2.28,1.02],[1.37,-0.36],[0.92,0.72],[2.58,-0.06],[1.9,0.48],[1.15,0.24],[1.67,1.2],[2.05,-0.54],[2.95,0.6],[0.7,0.06],[1.15,0.9],[2.8,-0.24],[2.58,0.78],[0.92,-0.3],[1.45,0.3],[2.28,0.42],[1.75,0.0],[1.52,0.66],[2.13,0.18],[1.98,0.96],[2.35,-0.42],[0.62,0.48],[1.3,-0.12],[2.5,1.32],[1.52,-0.66],[3.25,0.36],[1.45,1.5],[2.43,-0.84],[3.1,0.84],[3.03,0.12],[0.77,1.08],[1.07,-0.6],[1.6,0.54],[2.43,0.06],[1.82,0.78],[1.6,-0.24],[0.92,0.36],[2.35,0.24],[2.05,1.68],[1.67,-1.02],[0.32,0.66],[3.48,0.0],[1.22,1.26],[2.95,-0.48],[2.88,1.44],[0.7,-0.78],[1.98,0.6],[1.9,-0.06],[1.67,0.3],[2.13,0.48],[1.67,0.12],[2.35,0.72],[2.13,-0.18],[1.3,0.42],[2.13,0.9],[1.22,0.18],[2.65,0.54],[1.9,-0.36],[1.45,1.02],[0.85,-0.12],[0.47,0.84],[3.33,-0.3],[0.0,1.2],[0.1,-1.4],[0.2,-0.5],[0.12,0.2],[0.45,1.3],[0.45,0.0],[2.15,3.5],[1.95,2.6],[3.5,2.0],[3.35,2.2],[3.15,2.1],[3.45,-0.8],[3.55,0.3],[3.4,0.8],[0.65,-1.0],[1.7,-1.9],[1.75,-1.7],[2.8,-1.3],[1.0,-1.0],[2.3,2.3],[1.4,1.9],[3.0,1.6],[1.98,0.39],[1.83,0.21],[1.75,0.54],[2.05,0.06],[1.49,0.42],[2.31,0.18],[2.13,0.69],[1.68,-0.09],[1.26,0.33],[2.54,0.27],[1.83,0.84],[1.98,-0.24],[2.43,0.6],[1.38,0.0],[1.45,0.75],[2.35,-0.15],[2.16,0.48],[1.64,0.12],[2.28,0.96],[1.53,-0.36],[1.08,0.51],[2.73,0.09],[1.71,0.66],[2.09,-0.06],[1.6,0.3],[2.2,0.3],[2.61,0.87],[1.19,-0.27],[2.8,0.45],[1.0,0.15]];
const pzGreen2=[[0.92,9.28],[1.23,8.8],[0.55,9.92],[1.38,10.24],[0.85,10.88],[0.32,8.96],[1.6,9.44],[1.0,9.76],[0.7,8.16],[1.15,11.36],[0.1,10.4],[1.83,8.48],[0.47,7.52],[1.45,11.04],[0.77,9.6],[1.08,8.0],[-0.13,9.12],[2.05,9.92],[0.62,11.84],[1.3,7.04],[0.25,8.0],[1.68,11.52],[0.4,11.04],[1.75,7.52],[1.0,8.64],[0.85,10.4],[1.38,9.28],[0.55,8.8],[1.15,10.08],[0.17,9.76],[1.9,10.56],[0.77,6.88],[1.53,8.32],[-0.28,10.88],[2.2,8.8],[0.92,12.48],[-0.5,8.64],[2.43,10.72],[0.32,12.16],[1.23,12.0],[0.02,7.2],[2.13,7.84],[0.7,8.96],[1.3,10.72],[0.4,9.44],[1.68,8.96],[0.92,7.52],[1.08,10.56],[-0.73,9.92],[2.65,9.12],[0.55,6.24],[1.38,12.96],[-0.2,8.16],[1.98,11.84],[-0.43,11.68],[2.35,7.04],[0.62,9.76],[1.45,9.6],[1.0,9.12],[0.77,10.08],[1.23,9.12],[0.47,10.56],[1.6,10.08],[0.85,8.32],[0.25,10.08],[1.15,8.16],[0.7,11.2],[1.83,9.6],[0.1,8.64],[1.53,7.36],[0.32,6.56],[1.75,12.64],[-1.6,9.4],[-1.25,7.8],[-1.2,9.6],[-1.3,12.5],[-1.25,11.5],[-0.85,12.9],[0.2,14.4],[2.1,14.4],[3.0,8.1],[2.9,6.2],[2.6,6.0],[1.0,5.2],[0.75,5.5],[1.8,5.0],[1.95,4.2],[1.95,5.1],[2.85,10.0],[2.7,10.4],[2.5,11.7],[0.5,13.9],[0.9,13.6],[-0.6,11.9],[-0.5,7.5],[1.3,13.4],[2.3,12.9],[3.05,9.0],[0.89,9.76],[1.11,9.44],[0.7,9.28],[1.3,9.92],[0.85,8.72],[1.15,10.48],[0.51,10.08],[1.49,9.12],[0.96,8.24],[1.04,10.96],[0.33,9.44],[1.68,9.76],[0.63,10.72],[1.38,8.48],[0.44,8.64],[1.56,10.56],[0.78,10.16],[1.23,9.04],[0.18,10.4],[1.83,8.8],[0.74,7.84],[1.26,11.36],[0.55,9.2],[1.45,10.0],[1.0,8.96],[1.0,10.24],[0.29,11.12],[1.71,8.08],[0.81,11.52],[1.19,7.68]];
const pzRed2=[[0.52,0.41],[0.26,0.58],[0.84,0.19],[0.12,0.08],[0.58,-0.14],[1.04,0.52],[-0.07,0.36],[0.45,0.25],[0.71,0.8],[0.32,-0.31],[1.23,0.03],[-0.27,0.69],[0.91,1.02],[0.06,-0.2],[0.65,0.3],[0.38,0.85],[1.43,0.47],[-0.46,0.19],[0.78,-0.47],[0.19,1.18],[1.1,0.85],[-0.14,-0.36],[0.97,-0.2],[-0.2,1.02],[0.45,0.63],[0.58,0.03],[0.12,0.41],[0.84,0.58],[0.32,0.14],[1.17,0.25],[-0.33,-0.03],[0.65,1.24],[0.0,0.74],[1.56,-0.14],[-0.59,0.58],[0.52,-0.69],[1.75,0.63],[-0.79,-0.09],[1.04,-0.58],[0.26,-0.53],[1.3,1.13],[-0.53,0.91],[0.71,0.52],[0.19,-0.09],[0.97,0.36],[-0.14,0.52],[0.52,1.02],[0.38,-0.03],[1.95,0.19],[-0.98,0.47],[0.84,1.46],[0.12,-0.86],[1.49,0.8],[-0.4,-0.47],[1.69,-0.42],[-0.72,1.18],[0.78,0.25],[0.06,0.3],[0.45,0.47],[0.65,0.14],[0.26,0.47],[0.91,-0.03],[-0.07,0.14],[0.58,0.74],[1.1,0.14],[0.32,0.8],[0.71,-0.25],[-0.27,0.3],[1.23,0.63],[0.0,1.07],[1.04,1.35],[-0.2,-0.75],[-2.0,-1.6],[-1.85,-0.2],[-1.7,0.4],[-1.55,0.9],[-1.65,-0.2],[-1.55,-0.4],[-1.3,0.2],[-1.2,1.2],[2.25,1.7],[2.1,0.2],[2.2,-0.2],[1.95,0.3],[-1.0,-0.6],[-0.9,0.9],[1.8,1.5],[1.4,-0.7],[0.0,-1.2],[1.7,1.0],[-1.1,0.5],[1.25,1.6],[-0.3,1.6],[0.5,1.8],[0.55,0.25],[0.35,0.36],[0.71,0.41],[0.19,0.19],[0.58,0.6],[0.32,0.0],[0.87,0.14],[0.03,0.47],[0.48,0.77],[0.42,-0.17],[1.04,0.36],[-0.14,0.25],[0.78,-0.09],[0.13,0.69],[0.94,0.63],[-0.04,-0.03],[0.65,0.11],[0.26,0.49],[1.17,0.03],[-0.27,0.58],[0.68,0.91],[0.22,-0.31],[0.84,0.44],[0.06,0.16],[0.45,0.52],[0.45,0.08],[1.07,-0.22],[-0.17,0.82],[0.61,-0.36],[0.29,0.96]];
const pzGreen3=[[0.48,0.89],[0.3,0.54],[0.72,1.31],[0.84,0.37],[1.08,0.97],[0.36,1.57],[0.54,0.12],[0.66,0.8],[0.06,1.14],[1.26,0.63],[0.9,1.82],[0.18,-0.14],[-0.18,1.4],[1.14,0.29],[0.6,1.06],[0.0,0.71],[0.42,2.08],[0.72,-0.39],[1.44,1.23],[-0.36,0.46],[0.0,1.65],[1.32,0.03],[1.14,1.48],[-0.18,-0.05],[0.24,0.8],[0.9,0.97],[0.48,0.37],[0.3,1.31],[0.78,0.63],[0.66,1.74],[0.96,-0.22],[-0.42,1.06],[0.12,0.2],[1.08,2.25],[0.3,-0.56],[1.68,0.89],[0.24,2.5],[1.02,-0.82],[1.56,1.57],[1.5,0.54],[-0.3,1.91],[-0.06,-0.48],[0.36,1.14],[1.02,0.46],[0.54,1.48],[0.36,0.03],[-0.18,0.89],[0.96,0.71],[0.72,2.76],[0.42,-1.07],[-0.66,1.31],[1.86,0.37],[0.06,2.16],[1.44,-0.31],[1.38,2.42],[-0.36,-0.73],[0.66,1.23],[0.6,0.29],[0.42,0.8],[0.78,1.06],[0.42,0.54],[0.96,1.4],[0.78,0.12],[0.12,0.97],[0.78,1.65],[0.06,0.63],[1.2,1.14],[0.6,-0.14],[0.24,1.82],[-0.24,0.2],[-0.54,1.57],[1.74,-0.05],[-0.9,3.9],[1.8,3.75],[1.3,3.65],[1.55,3.2],[0.0,3.0],[-0.6,2.5],[-0.9,2.25],[-0.55,2.25],[2.55,-1.15],[0.2,-1.3],[1.1,-1.3],[-1.2,-1.15],[-1.6,-0.1],[2.5,0.85],[2.3,1.6],[-1.4,1.1],[-1.5,0.5],[-1.3,1.6],[-1.0,-0.6],[0.1,2.9],[0.3,2.85],[0.7,3.0],[2.0,2.0],[2.2,-0.3],[1.8,-0.35],[2.2,1.0],[-1.0,0.3],[0.8,-1.0],[0.66,0.93],[0.54,0.67],[0.48,1.14],[0.72,0.46],[0.27,0.97],[0.93,0.63],[0.78,1.35],[0.42,0.25],[0.09,0.84],[1.11,0.76],[0.54,1.57],[0.66,0.04],[1.02,1.23],[0.18,0.38],[0.24,1.44],[0.96,0.16],[0.81,1.06],[0.39,0.55],[0.9,1.74],[0.3,-0.14],[-0.06,1.1],[1.26,0.5],[0.45,1.31],[0.75,0.29],[0.36,0.8],[0.84,0.8],[1.17,1.61],[0.03,-0.01],[1.32,1.01],[-0.12,0.59]];
const pzRed3=[[6.16,0.32],[6.72,0.5],[5.46,0.08],[7.0,-0.04],[6.02,-0.28],[5.04,0.44],[7.42,0.26],[6.3,0.14],[5.74,0.74],[6.58,-0.46],[4.62,-0.1],[7.84,0.62],[5.32,0.98],[7.14,-0.34],[5.88,0.2],[6.44,0.8],[4.2,0.38],[8.26,0.08],[5.6,-0.64],[6.86,1.16],[4.9,0.8],[7.56,-0.52],[5.18,-0.34],[7.7,0.98],[6.3,0.56],[6.02,-0.1],[7.0,0.32],[5.46,0.5],[6.58,0.02],[4.76,0.14],[7.98,-0.16],[5.88,1.22],[7.28,0.68],[3.92,-0.28],[8.54,0.5],[6.16,-0.88],[3.5,0.56],[8.96,-0.22],[5.04,-0.76],[6.72,-0.7],[4.48,1.1],[8.4,0.86],[5.74,0.44],[6.86,-0.22],[5.18,0.26],[7.56,0.44],[6.16,0.98],[6.44,-0.16],[3.08,0.08],[9.38,0.38],[5.46,1.46],[7.0,-1.06],[4.06,0.74],[8.12,-0.64],[3.64,-0.58],[8.82,1.16],[5.6,0.14],[7.14,0.2],[6.3,0.38],[5.88,0.02],[6.72,0.38],[5.32,-0.16],[7.42,0.02],[6.02,0.68],[4.9,0.02],[6.58,0.74],[5.74,-0.4],[7.84,0.2],[4.62,0.56],[7.28,1.04],[5.04,1.34],[7.7,-0.94],[10.0,1.6],[7.3,1.9],[6.4,1.8],[9.9,0.1],[9.9,-0.5],[7.8,-1.4],[6.4,-1.4],[5.0,-1.4],[4.4,-1.25],[3.6,-0.6],[2.3,0.35],[2.6,1.35],[2.8,1.3],[2.5,0.6],[2.9,0.8],[3.1,-0.3],[3.0,0.2],[3.3,-0.6],[2.6,-0.1],[9.6,0.9],[9.2,-1.0],[8.8,-1.2],[9.4,1.2],[8.2,1.4],[3.9,1.0],[4.0,1.2],[5.7,1.5],[6.9,-1.2],[6.09,0.14],[6.51,0.26],[5.74,0.32],[6.86,0.08],[6.02,0.53],[6.58,-0.13],[5.39,0.02],[7.21,0.38],[6.23,0.71],[6.37,-0.31],[5.04,0.26],[7.56,0.14],[5.6,-0.22],[7.0,0.62],[5.25,0.56],[7.35,-0.16],[5.88,-0.01],[6.72,0.41],[4.76,-0.1],[7.84,0.5],[5.81,0.86],[6.79,-0.46],[5.46,0.35],[7.14,0.05],[6.3,0.44],[6.3,-0.04],[4.97,-0.37],[7.63,0.77],[5.95,-0.52],[6.65,0.92]];
const pzGreen4=[[0.97,11.82],[0.69,12.3],[1.32,11.18],[0.55,10.86],[1.04,10.22],[1.53,12.14],[0.34,11.66],[0.9,11.34],[1.18,12.94],[0.76,9.74],[1.74,10.7],[0.13,12.62],[1.39,13.58],[0.48,10.06],[1.11,11.5],[0.83,13.1],[1.95,11.98],[-0.08,11.18],[1.25,9.26],[0.62,14.06],[1.6,13.1],[0.27,9.58],[1.46,10.06],[0.2,13.58],[0.9,12.46],[1.04,10.7],[0.55,11.82],[1.32,12.3],[0.76,11.02],[1.67,11.34],[0.06,10.54],[1.11,14.22],[0.41,12.78],[2.09,10.22],[-0.22,12.3],[0.97,8.62],[2.3,12.46],[-0.43,10.38],[1.53,8.94],[0.69,9.1],[1.81,13.9],[-0.15,13.26],[1.18,12.14],[0.62,10.38],[1.46,11.66],[0.27,12.14],[0.97,13.58],[0.83,10.54],[2.51,11.18],[-0.64,11.98],[1.32,14.86],[0.55,8.14],[2.02,12.94],[-0.01,9.26],[2.23,9.42],[-0.36,14.06],[1.25,11.34],[0.48,11.5],[0.9,11.98],[1.11,11.02],[0.69,11.98],[1.39,10.54],[0.34,11.02],[1.04,12.78],[1.6,11.02],[0.76,12.94],[1.18,9.9],[0.13,11.5],[1.74,12.46],[0.41,13.74],[1.53,14.54],[0.2,8.46],[0.1,16.3],[0.4,16.9],[-0.1,15.9],[1.2,16.5],[1.8,16.6],[2.0,16.3],[-1.3,7.5],[-1.05,7.7],[-0.6,7.6],[1.8,6.9],[3.3,13.4],[3.0,11.8],[3.1,10.9],[-1.3,12.3],[-1.1,13.3],[-0.9,10.5],[-1.0,9.3],[2.6,13.0],[2.8,12.4],[2.4,10.2],[2.6,9.7],[1.6,15.5],[0.9,15.8],[-0.5,9.3],[1.01,11.34],[0.8,11.66],[1.18,11.82],[0.62,11.18],[1.04,12.38],[0.76,10.62],[1.36,11.02],[0.45,11.98],[0.94,12.86],[0.87,10.14],[1.53,11.66],[0.27,11.34],[1.25,10.38],[0.55,12.62],[1.43,12.46],[0.38,10.54],[1.11,10.94],[0.69,12.06],[1.67,10.7],[0.13,12.3],[1.15,13.26],[0.66,9.74],[1.32,11.9],[0.48,11.1],[0.9,12.14],[0.9,10.86],[1.57,9.98],[0.24,13.02],[1.08,9.58],[0.73,13.42]];
const pzRed4=[[0.46,0.57],[0.7,0.31],[0.14,0.89],[-0.02,0.18],[-0.34,0.63],[0.62,1.09],[0.38,-0.02],[0.22,0.5],[1.02,0.76],[-0.58,0.37],[-0.1,1.28],[0.86,-0.22],[1.34,0.96],[-0.42,0.11],[0.3,0.7],[1.1,0.44],[0.54,1.48],[0.14,-0.41],[-0.82,0.83],[1.58,0.24],[1.1,1.15],[-0.66,-0.09],[-0.42,1.02],[1.34,-0.15],[0.78,0.5],[-0.1,0.63],[0.46,0.18],[0.7,0.89],[0.06,0.37],[0.22,1.22],[-0.18,-0.28],[1.66,0.7],[0.94,0.05],[-0.34,1.61],[0.7,-0.54],[-1.14,0.57],[0.78,1.8],[-0.26,-0.74],[-0.98,1.09],[-0.9,0.31],[1.5,1.35],[1.18,-0.48],[0.62,0.76],[-0.26,0.24],[0.38,1.02],[0.62,-0.09],[1.34,0.57],[-0.18,0.44],[0.14,2.0],[0.54,-0.93],[1.98,0.89],[-1.38,0.18],[1.02,1.54],[-0.82,-0.35],[-0.74,1.74],[1.58,-0.67],[0.22,0.83],[0.3,0.11],[0.54,0.5],[0.06,0.7],[0.54,0.31],[-0.18,0.96],[0.06,-0.02],[0.94,0.63],[0.06,1.15],[1.02,0.37],[-0.5,0.76],[0.3,-0.22],[0.78,1.28],[1.42,0.05],[1.82,1.09],[-1.22,-0.15],[-2.6,1.1],[-2.0,-0.4],[-1.95,-0.3],[4.5,0.1],[3.1,1.0],[2.9,-0.9],[2.4,-1.6],[1.1,-1.9],[2.35,1.8],[-1.3,2.3],[-1.5,1.2],[-1.7,0.5],[-1.2,1.8],[2.3,0.4],[2.6,-0.6],[2.5,0.9],[2.0,2.2],[-0.3,2.4],[0.5,2.5],[1.2,2.6],[-0.8,-1.2],[0.2,-1.5],[1.6,-1.3],[-1.5,-0.6],[2.2,-1.1],[1.3,2.4],[0.22,0.6],[0.38,0.4],[0.46,0.76],[0.14,0.24],[0.74,0.63],[-0.14,0.37],[0.06,0.92],[0.54,0.08],[0.98,0.53],[-0.38,0.47],[0.38,1.09],[0.22,-0.09],[-0.26,0.83],[0.86,0.18],[0.78,0.99],[-0.18,0.01],[0.02,0.7],[0.58,0.31],[-0.1,1.22],[0.7,-0.22],[1.18,0.73],[-0.58,0.27],[0.5,0.89],[0.1,0.11],[0.62,0.5],[-0.02,0.5],[-0.46,1.12],[1.06,-0.12],[-0.66,0.66],[1.26,0.34]];
const pzGreen5=[[-0.09,7.56],[0.07,7.95],[-0.29,7.04],[0.15,6.78],[-0.13,6.26],[-0.41,7.82],[0.27,7.43],[-0.05,7.17],[-0.21,8.47],[0.03,5.87],[-0.53,6.65],[0.39,8.21],[-0.33,8.99],[0.19,6.13],[-0.17,7.3],[-0.01,8.6],[-0.65,7.69],[0.51,7.04],[-0.25,5.48],[0.11,9.38],[-0.45,8.6],[0.31,5.74],[-0.37,6.13],[0.35,8.99],[-0.05,8.08],[-0.13,6.65],[0.15,7.56],[-0.29,7.95],[0.03,6.91],[-0.49,7.17],[0.43,6.52],[-0.17,9.51],[0.23,8.34],[-0.73,6.26],[0.59,7.95],[-0.09,4.96],[-0.85,8.08],[0.71,6.39],[-0.41,5.22],[0.07,5.35],[-0.57,9.25],[0.55,8.73],[-0.21,7.82],[0.11,6.39],[-0.37,7.43],[0.31,7.82],[-0.09,8.99],[-0.01,6.52],[-0.97,7.04],[0.83,7.69],[-0.29,10.03],[0.15,4.57],[-0.69,8.47],[0.47,5.48],[-0.81,5.61],[0.67,9.38],[-0.25,7.17],[0.19,7.3],[-0.05,7.69],[-0.17,6.91],[0.07,7.69],[-0.33,6.52],[0.27,6.91],[-0.13,8.34],[-0.45,6.91],[0.03,8.47],[-0.21,6.0],[0.39,7.3],[-0.53,8.08],[0.23,9.12],[-0.41,9.77],[0.35,4.83],[-1.95,7.4],[-0.55,11.4],[1.6,9.3],[1.7,7.6],[1.75,7.8],[1.1,10.3],[-1.05,10.2],[-0.85,9.7],[-0.6,3.9],[-0.35,4.2],[0.1,10.8],[0.25,10.8],[-0.2,10.6],[0.4,10.9],[1.2,8.5],[1.1,7.0],[1.0,5.5],[-1.2,5.5],[-1.0,6.2],[-1.25,7.3],[0.45,4.5],[0.8,5.8],[-0.8,4.3],[0.95,9.5],[0.35,4.4],[-0.11,7.17],[0.01,7.43],[-0.21,7.56],[0.11,7.04],[-0.13,8.02],[0.03,6.59],[-0.31,6.91],[0.21,7.69],[-0.07,8.41],[-0.03,6.2],[-0.41,7.43],[0.31,7.17],[-0.25,6.39],[0.15,8.21],[-0.35,8.08],[0.25,6.52],[-0.17,6.85],[0.07,7.76],[-0.49,6.65],[0.39,7.95],[-0.19,8.73],[0.09,5.87],[-0.29,7.63],[0.19,6.98],[-0.05,7.82],[-0.05,6.78],[-0.43,6.07],[0.33,8.54],[-0.15,5.74],[0.05,8.86]];
const pzRed5=[[2.17,0.09],[2.43,0.32],[1.83,-0.18],[1.66,0.43],[1.32,0.04],[2.34,-0.35],[2.09,0.59],[1.91,0.15],[2.77,-0.07],[1.06,0.26],[1.57,-0.51],[2.6,0.76],[3.11,-0.24],[1.23,0.48],[2.0,-0.02],[2.85,0.21],[2.26,-0.68],[1.83,0.92],[0.81,-0.13],[3.36,0.37],[2.85,-0.4],[0.98,0.65],[1.23,-0.29],[3.11,0.7],[2.51,0.15],[1.57,0.04],[2.17,0.43],[2.43,-0.18],[1.74,0.26],[1.91,-0.46],[1.49,0.81],[3.45,-0.02],[2.68,0.54],[1.32,-0.79],[2.43,1.03],[0.47,0.09],[2.51,-0.95],[1.4,1.2],[0.64,-0.35],[0.72,0.32],[3.28,-0.57],[2.94,0.98],[2.34,-0.07],[1.4,0.37],[2.09,-0.29],[2.34,0.65],[3.11,0.09],[1.49,0.21],[1.83,-1.12],[2.26,1.36],[3.79,-0.18],[0.22,0.43],[2.77,-0.73],[0.81,0.87],[0.89,-0.9],[3.36,1.14],[1.91,-0.13],[2.0,0.48],[2.26,0.15],[1.74,-0.02],[2.26,0.32],[1.49,-0.24],[1.74,0.59],[2.68,0.04],[1.74,-0.4],[2.77,0.26],[1.15,-0.07],[2.0,0.76],[2.51,-0.51],[3.19,0.54],[3.62,-0.35],[0.39,0.7],[5.1,1.2],[5.2,-0.1],[4.9,0.8],[4.9,-0.7],[4.3,-0.8],[4.2,1.2],[3.9,-0.9],[4.6,0.2],[4.4,0.7],[2.7,2.2],[-0.05,-0.35],[0.3,-0.8],[1.6,-1.6],[0.1,0.8],[0.0,0.9],[3.7,0.9],[4.0,0.3],[3.9,-0.3],[1.2,1.6],[2.4,1.9],[3.3,-1.0],[2.6,-1.4],[1.1,-1.0],[0.5,1.0],[3.8,1.1],[1.92,0.07],[2.09,0.23],[2.17,-0.07],[1.83,0.37],[2.47,0.04],[1.53,0.26],[1.75,-0.21],[2.26,0.51],[2.72,0.12],[1.28,0.18],[2.09,-0.35],[1.92,0.65],[1.41,-0.13],[2.6,0.43],[2.51,-0.26],[1.49,0.56],[1.7,-0.02],[2.3,0.32],[1.58,-0.46],[2.43,0.76],[2.94,-0.04],[1.07,0.34],[2.21,-0.18],[1.79,0.48],[2.34,0.15],[1.66,0.15],[1.19,-0.37],[2.81,0.67],[0.98,0.01],[3.02,0.29]];

// ---------- data: X = g(z) (column 4): extra points beyond the moon shape ----------
const gzGreenExtra1=[[1.2,0.12],[1.15,0.05],[0.75,0.15],[0.8,-0.04],[0.95,-0.1],[1.05,0.2],[-1.1,-0.14],[-0.97,-0.17],[-1.1,0.3],[-0.85,-0.05],[0.25,0.8],[-0.3,0.75],[0.0,1.12],[0.05,1.1]];
const gzRedExtra1=[[-0.62,0.35],[-0.5,0.45],[-0.48,0.41],[-0.5,0.31],[-0.35,0.59],[-0.3,0.58],[-0.22,0.66],[-0.17,0.66],[-0.1,0.47],[1.97,1.24],[1.97,1.05],[1.95,0.92],[2.05,0.8],[2.08,0.84],[2.12,0.8],[2.18,0.66],[1.98,0.77],[2.05,0.71],[2.0,0.67],[1.88,0.53],[2.1,0.5],[2.2,0.4],[2.02,0.9],[1.75,0.15],[1.9,0.6],[1.95,0.5],[2.15,0.45],[0.6,-0.55],[1.0,-0.6],[1.05,-0.58]];
const gzGreenExtra2=[[0.28,1.12],[0.5,0.7],[0.62,0.35],[0.8,0.45],[0.85,0.55],[1.1,0.47],[1.2,0.43],[1.5,0.43],[1.55,0.32],[1.45,0.29],[1.4,0.25],[1.3,0.23],[1.05,0.0],[1.15,-0.1],[1.2,-0.15],[1.1,-0.12],[1.45,-0.09],[0.8,0.2],[0.9,0.1],[0.85,-0.01],[1.0,0.3],[1.2,0.15],[1.25,0.05],[1.3,-0.05],[1.45,0.15],[0.95,0.25],[1.05,0.2],[1.1,0.35],[0.7,0.6],[0.75,0.5],[-1.15,-0.18],[-1.1,-0.17],[-1.02,-0.22],[-0.85,-0.01],[-1.05,-0.12]];
const gzRedExtra2=[[-0.1,0.58],[0.07,0.57],[-0.2,0.54],[-0.25,0.36],[-0.2,0.38],[-0.15,0.45],[-0.35,0.06],[0.2,0.32],[1.8,0.34],[2.05,0.67],[1.98,0.6],[1.95,0.55],[2.05,0.4],[0.05,0.5],[0.1,0.45]];
const gzGreenExtra3=[[1.12,0.65],[-0.15,0.52],[1.4,0.1],[1.4,0.03],[1.2,0.13],[1.25,0.05],[1.18,-0.1],[1.05,0.05],[0.95,0.0],[-0.9,-0.05],[-1.05,0.0],[-0.95,-0.03],[-0.2,1.0],[-0.4,1.0],[0.1,1.1]];
const gzRedExtra3=[[-0.3,0.85],[-0.35,0.83],[-0.15,0.87],[-0.1,0.9],[-0.05,0.86],[0.0,0.8],[0.05,0.75],[0.0,0.72],[-0.05,0.7],[0.1,0.76],[-0.1,0.65],[0.15,0.65],[0.05,0.6],[-0.1,0.55],[0.1,0.5],[-0.05,0.45],[0.15,0.45],[-0.1,0.3],[0.0,0.2],[-0.05,0.28],[0.05,0.35],[0.12,0.55],[2.05,0.8],[2.05,0.6],[2.15,0.47],[2.1,0.55],[2.0,0.5],[0.65,-0.58],[0.85,-0.62],[1.15,-0.6]];
const gzGreenExtra4=[[1.2,0.4],[1.15,0.38],[0.8,-0.05],[1.0,-0.03],[1.15,-0.03],[1.1,0.05],[-1.1,0.22],[-1.0,-0.14],[-1.05,-0.12],[-0.3,0.75],[-0.4,0.73],[0.15,1.12],[0.3,1.1],[-0.6,0.96],[0.1,0.85]];
const gzRedExtra4=[[2.55,1.08],[-0.05,0.65],[2.2,0.68],[2.25,0.6],[2.0,0.64],[2.1,0.55],[2.1,0.13],[1.95,0.15],[-0.1,0.42],[0.0,0.5],[0.1,0.48],[1.0,-0.63],[1.25,-0.62],[2.05,0.4],[1.9,0.45]];
const gzGreenExtra5=[[-1.1,-0.31],[1.2,0.7],[1.32,0.57],[1.32,0.45],[1.1,0.57],[1.2,0.27],[1.05,0.3],[0.65,0.97],[-0.9,0.97],[0.9,0.0],[0.95,-0.03],[1.0,0.05],[0.2,1.1],[0.4,1.08]];
const gzRedExtra5=[[-0.55,0.6],[-0.5,0.64],[-0.45,0.65],[-0.4,0.67],[-0.35,0.66],[-0.3,0.64],[-0.25,0.62],[-0.2,0.66],[-0.1,0.64],[-0.05,0.62],[0.0,0.63],[-0.45,0.62],[-0.35,0.6],[-0.15,0.6],[-0.12,0.57],[0.05,0.58],[-0.7,0.38],[-0.72,0.15],[1.8,1.06],[1.95,0.88],[2.05,0.87],[1.95,0.73],[2.0,0.72],[2.05,0.65],[2.1,0.62],[2.2,0.63],[2.0,0.55],[1.92,0.42],[2.0,0.44],[2.1,0.38],[2.2,0.38],[1.95,0.37],[2.05,0.28],[2.15,0.15],[1.7,0.08],[0.8,-0.63],[1.4,-0.55]];

// ---------- axes: limits and tick values, row-major (4 panels per row) ----------
const xLimits=[[-1.28,2.27],[-1.11,3.40],[-1.32,3.87],[-1.29,2.37],
 [-1.27,2.27],[-1.52,2.61],[-2.29,3.32],[-1.33,2.24],
 [-1.28,2.26],[-2.91,10.26],[-2.22,10.71],[-1.28,2.31],
 [-1.27,2.27],[-2.39,3.23],[-2.90,4.88],[-1.30,2.73],
 [-1.25,2.24],[-1.51,4.56],[-2.34,5.51],[-1.29,2.37]];
const yLimits=[[-0.70,1.18],[-2.83,15.05],[-2.78,13.5],[-0.69,1.34],
 [-0.70,1.22],[-2.94,17.94],[-2.46,15.32],[-0.67,1.22],
 [-0.70,1.20],[-1.84,3.31],[-1.68,4.22],[-0.71,1.20],
 [-0.65,1.18],[-2.58,18.17],[-2.93,18.05],[-0.72,1.23],
 [-0.75,1.22],[-2.25,11.22],[-2.26,12.13],[-0.71,1.20]];
const moonXTicks=[-1,0,1,2], moonYTicks=[-0.5,0,0.5,1];
const xTicks=[moonXTicks,[-1,0,1,2,3],[0,2],moonXTicks,
 moonXTicks,[-1,0,1,2],[-2,0,2],moonXTicks,
 moonXTicks,[0,5,10],[0,5,10],moonXTicks,
 moonXTicks,[-2,0,2],[-2,0,2,4],moonXTicks,
 moonXTicks,[0,2,4],[-2,0,2,4],moonXTicks];
const yTicks=[moonYTicks,[0,5,10],[0,5,10],moonYTicks,
 moonYTicks,[0,5,10,15],[0,5,10,15],moonYTicks,
 moonYTicks,[-1,0,1,2,3],[-1,0,1,2,3,4],moonYTicks,
 moonYTicks,[0,5,10,15],[0,5,10,15],moonYTicks,
 moonYTicks,[0,2.5,5,7.5,10],[0,2.5,5,7.5,10],moonYTicks];
const yDecimals=[1,0,0,1, 1,0,0,1, 1,0,0,1, 1,0,0,1, 1,1,1,1];
const titles=['{i|X}{n| ∼ }{i|p}{n|(}{i|X}{n|)}','{i|z}{n| = }{i|f}{n|(}{i|X}{n|)}','{i|z}{n| ∼ }{i|p}{n|(}{i|z}{n|)}','{i|X}{n| = }{i|g}{n|(}{i|z}{n|)}'];

const fxGreen=[fxGreen1,fxGreen2,fxGreen3,fxGreen4,fxGreen5], fxRed=[fxRed1,fxRed2,fxRed3,fxRed4,fxRed5];
const pzGreen=[pzGreen1,pzGreen2,pzGreen3,pzGreen4,pzGreen5], pzRed=[pzRed1,pzRed2,pzRed3,pzRed4,pzRed5];
const gzGreenExtra=[gzGreenExtra1,gzGreenExtra2,gzGreenExtra3,gzGreenExtra4,gzGreenExtra5];
const gzRedExtra=[gzRedExtra1,gzRedExtra2,gzRedExtra3,gzRedExtra4,gzRedExtra5];

// ---------- layout ----------
const COL_LEFT=[57,371,685,999], ROW_TOP=[31,330,629,928,1227], PW=262, PH=236;
const FONT='DejaVu Sans';
const fmt=(v,d)=>v.toFixed(d).replace('-','\u2212');

const grids=[],xAxes=[],yAxes=[],series=[],graphics=[];
const moonG=moonGreen.concat(moonGreenSpread), moonR=moonRed.concat(moonRedSpread);
for(let r=0;r<5;r++){
  for(let c=0;c<4;c++){
    const i=r*4+c;
    grids.push({left:COL_LEFT[c],top:ROW_TOP[r],width:PW,height:PH,show:true,borderColor:'#000',borderWidth:1,backgroundColor:'#fff',containLabel:false});
    const lab={color:'#000',fontSize:17,fontFamily:FONT};
    xAxes.push({gridIndex:i,type:'value',min:xLimits[i][0],max:xLimits[i][1],position:'bottom',
      splitLine:{show:false},axisLine:{show:true,onZero:false,lineStyle:{color:'#000',width:1}},
      axisTick:{show:true,length:5,inside:false,lineStyle:{color:'#000',width:1},customValues:xTicks[i]},
      axisLabel:Object.assign({show:true,margin:7,customValues:xTicks[i],formatter:v=>fmt(v,0)},lab)});
    const yd=yDecimals[i];
    yAxes.push({gridIndex:i,type:'value',min:yLimits[i][0],max:yLimits[i][1],position:'left',
      splitLine:{show:false},axisLine:{show:true,onZero:false,lineStyle:{color:'#000',width:1}},
      axisTick:{show:true,length:5,inside:false,lineStyle:{color:'#000',width:1},customValues:yTicks[i]},
      axisLabel:Object.assign({show:true,margin:6,customValues:yTicks[i],formatter:v=>fmt(v,yd)},lab)});
    let g,rd;
    if(c===0){g=moonG;rd=moonR;}
    else if(c===1){g=fxGreen[r];rd=fxRed[r];}
    else if(c===2){g=pzGreen[r];rd=pzRed[r];}
    else {g=moonG.concat(gzGreenExtra[r]);rd=moonR.concat(gzRedExtra[r]);}
    series.push({type:'scatter',xAxisIndex:i,yAxisIndex:i,data:g,symbol:'circle',symbolSize:8,silent:true,
      itemStyle:{color:'#008000',opacity:1},emphasis:{disabled:true},z:2});
    series.push({type:'scatter',xAxisIndex:i,yAxisIndex:i,data:rd,symbol:'circle',symbolSize:8,silent:true,
      itemStyle:{color:'#ff0000',opacity:1},emphasis:{disabled:true},z:3});
    graphics.push({type:'text',x:COL_LEFT[c]+PW/2,y:ROW_TOP[r]-1,silent:true,
      style:{text:titles[c],align:'center',verticalAlign:'bottom',fontSize:20,fontFamily:FONT,fill:'#000',
        rich:{i:{fontStyle:'italic',fontSize:20,fontFamily:FONT,fill:'#000'},n:{fontSize:20,fontFamily:FONT,fill:'#000'}}}});
  }
}

const chart=echarts.init(document.getElementById('c'),null,{renderer:'canvas',width:1262,height:1488});
chart.setOption({backgroundColor:'#fff',animation:false,grid:grids,xAxis:xAxes,yAxis:yAxes,series:series,graphic:graphics,tooltip:{show:false}});
</script>
</body></html>
